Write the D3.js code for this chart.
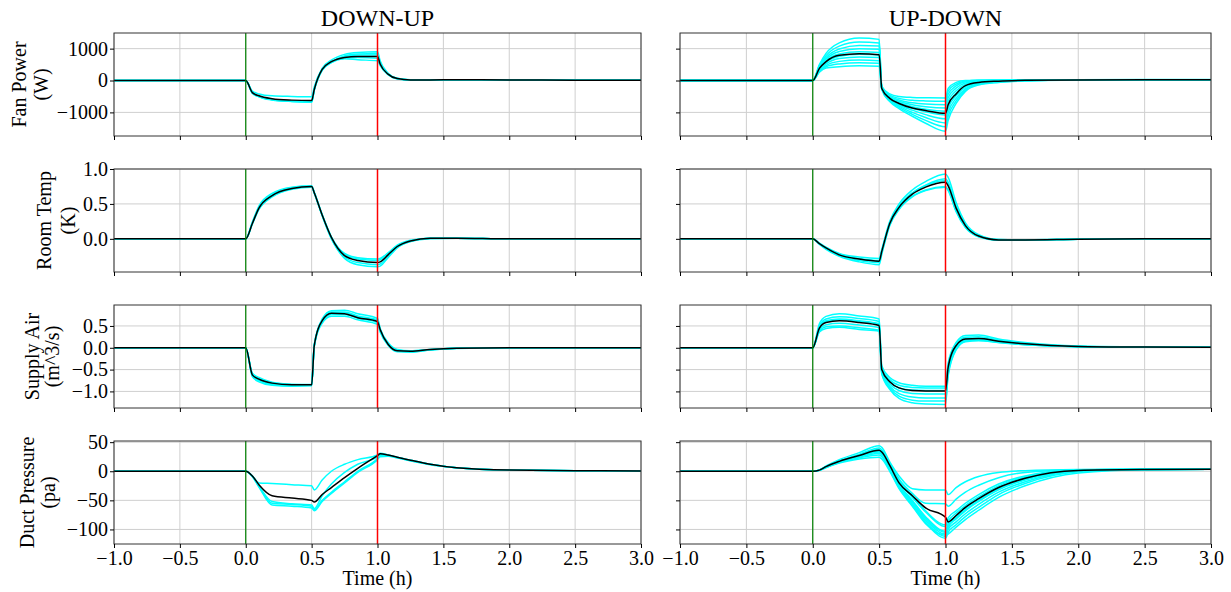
<!DOCTYPE html>
<html>
<head>
<meta charset="utf-8">
<script src="https://cdn.jsdelivr.net/npm/d3@7"></script>
<style>
  body { margin: 0; background: #fff; }
  svg text { font-family: "Liberation Serif", "Times New Roman", serif; fill: #000; }
</style>
</head>
<body>
<script>
// sample times (h)
var T = [-1, 0, 0.05, 0.1, 0.2, 0.35, 0.5, 0.52, 0.58, 0.65, 0.75, 0.85, 1.0, 1.02, 1.08, 1.15, 1.25, 1.4, 1.6, 2.0, 2.5, 3.0];

var titles = ['DOWN-UP', 'UP-DOWN'];
var rowLabels = [['Fan Power', '(W)'], ['Room Temp', '(K)'], ['Supply Air', '(m^3/s)'], ['Duct Pressure', '(pa)']];
var rowDomains = [[-1740, 1490], [-0.475, 1.0], [-1.38, 0.98], [-125, 52]];
var rowTicks = [[-1000, 0, 1000], [0, 0.5, 1.0], [-1.0, -0.5, 0, 0.5], [-100, -50, 0, 50]];
var rowFormats = ['d', '.1f', '.1f', 'd'];
var xTicks = [-1, -0.5, 0, 0.5, 1, 1.5, 2, 2.5, 3];

// ---- fan power ----
var fanDownMean = [0,0,-380,-480,-570,-615,-630,-280,350,590,725,755,750,520,200,60,20,20,22,18,12,8];
var fanDownRuns = [
  [0,0,-330,-420,-480,-500,-510,-200,380,640,820,880,900,620,230,70,25,22,22,18,12,8],
  [0,0,-390,-500,-600,-650,-665,-300,330,570,770,830,850,560,210,60,20,20,22,18,12,8],
  [0,0,-400,-510,-610,-660,-680,-310,320,560,700,720,700,500,190,55,20,20,22,18,12,8],
  [0,0,-370,-490,-590,-640,-660,-270,360,600,680,650,620,470,180,50,18,20,22,18,12,8],
  [0,0,-390,-500,-600,-655,-670,-290,340,580,750,800,800,540,200,60,20,20,22,18,12,8]
];
var fanUpMean = [0,0,380,590,790,840,810,-250,-560,-720,-860,-940,-1030,-760,-420,-160,-60,-20,5,20,25,25];
var fanUpRuns = [
  [0,0,500,850,1180,1330,1290,-180,-420,-500,-530,-540,-545,-250,-60,0,10,15,20,25,28,28],
  [0,0,470,780,1080,1210,1180,-200,-460,-560,-620,-640,-650,-330,-110,-20,5,10,18,24,27,27],
  [0,0,440,720,990,1100,1080,-210,-490,-610,-700,-740,-760,-430,-170,-40,0,8,16,23,26,26],
  [0,0,420,670,910,1000,980,-220,-520,-650,-760,-820,-860,-540,-240,-80,-20,0,14,22,25,25],
  [0,0,390,620,830,900,880,-230,-540,-690,-820,-900,-960,-650,-320,-120,-40,-10,10,21,25,25],
  [0,0,360,570,760,820,800,-240,-560,-720,-870,-980,-1080,-760,-400,-170,-60,-20,5,20,24,24],
  [0,0,330,520,690,740,720,-250,-590,-760,-930,-1070,-1200,-880,-480,-210,-80,-30,0,19,24,24],
  [0,0,300,470,600,640,620,-260,-610,-800,-1000,-1160,-1330,-1000,-560,-260,-100,-40,-5,18,23,23],
  [0,0,280,430,520,560,540,-270,-640,-840,-1060,-1250,-1450,-1120,-640,-300,-120,-50,-10,17,23,23],
  [0,0,260,390,430,460,450,-280,-660,-880,-1120,-1340,-1590,-1250,-720,-340,-140,-60,-15,16,22,22]
];

// ---- room temperature ----
var tempDownMean = [0,0,0.22,0.44,0.62,0.72,0.75,0.66,0.34,0.02,-0.24,-0.31,-0.34,-0.33,-0.23,-0.11,-0.03,0.01,0.01,0,0,0];
var tempDownRuns = [
  [0,0,0.24,0.47,0.65,0.74,0.76,0.67,0.35,0.03,-0.21,-0.27,-0.29,-0.28,-0.2,-0.09,-0.02,0.01,0.01,0,0,0],
  [0,0,0.21,0.42,0.6,0.71,0.74,0.65,0.33,0.0,-0.26,-0.34,-0.37,-0.36,-0.25,-0.12,-0.04,0.01,0.01,0,0,0],
  [0,0,0.23,0.45,0.63,0.73,0.75,0.66,0.34,0.01,-0.28,-0.37,-0.40,-0.39,-0.27,-0.13,-0.04,0.0,0.01,0,0,0],
  [0,0,0.22,0.43,0.61,0.72,0.75,0.66,0.34,0.02,-0.22,-0.29,-0.31,-0.30,-0.21,-0.10,-0.03,0.01,0.01,0,0,0]
];
var tempUpMean = [0,0,-0.07,-0.13,-0.23,-0.29,-0.32,-0.18,0.22,0.45,0.64,0.74,0.81,0.76,0.44,0.19,0.04,-0.015,-0.015,-0.005,0,0];
var tempUpRuns = [
  [0,0,-0.06,-0.12,-0.21,-0.26,-0.28,-0.15,0.25,0.5,0.7,0.82,0.93,0.88,0.52,0.23,0.06,-0.01,-0.015,-0.005,0,0],
  [0,0,-0.07,-0.14,-0.24,-0.31,-0.34,-0.2,0.2,0.43,0.61,0.7,0.75,0.7,0.4,0.17,0.03,-0.02,-0.015,-0.005,0,0],
  [0,0,-0.08,-0.15,-0.25,-0.33,-0.37,-0.22,0.19,0.42,0.6,0.69,0.74,0.69,0.39,0.16,0.03,-0.02,-0.02,-0.005,0,0],
  [0,0,-0.07,-0.13,-0.22,-0.28,-0.31,-0.17,0.23,0.47,0.66,0.77,0.86,0.81,0.47,0.21,0.05,-0.01,-0.015,-0.005,0,0],
  [0,0,-0.07,-0.13,-0.23,-0.29,-0.32,-0.18,0.22,0.46,0.65,0.76,0.83,0.78,0.45,0.2,0.04,-0.015,-0.015,-0.005,0,0]
];

// ---- supply air flow ----
var airDownMean = [0,0,-0.62,-0.72,-0.81,-0.85,-0.85,0.05,0.62,0.79,0.78,0.69,0.6,0.42,0.08,-0.07,-0.08,-0.04,-0.012,0,0,0];
var airDownRuns = [
  [0,0,-0.58,-0.68,-0.79,-0.84,-0.85,0.08,0.66,0.85,0.86,0.78,0.67,0.45,0.12,-0.04,-0.07,-0.04,-0.01,0,0,0],
  [0,0,-0.66,-0.78,-0.86,-0.88,-0.87,0.02,0.56,0.72,0.72,0.64,0.54,0.36,0.06,-0.09,-0.1,-0.05,-0.015,0,0,0],
  [0,0,-0.64,-0.75,-0.84,-0.87,-0.86,0.04,0.6,0.76,0.76,0.68,0.58,0.39,0.08,-0.07,-0.09,-0.05,-0.01,0,0,0],
  [0,0,-0.6,-0.7,-0.8,-0.84,-0.84,0.06,0.63,0.82,0.82,0.73,0.63,0.42,0.1,-0.05,-0.08,-0.04,-0.01,0,0,0],
  [0,0,-0.62,-0.73,-0.82,-0.85,-0.85,0.05,0.61,0.8,0.8,0.71,0.61,0.41,0.09,-0.06,-0.085,-0.045,-0.01,0,0,0]
];
var airUpMean = [0,0,0.45,0.58,0.62,0.58,0.51,-0.5,-0.78,-0.92,-0.98,-0.99,-0.99,-0.45,0.05,0.2,0.21,0.15,0.09,0.03,0.015,0.01];
var airUpRuns = [
  [0,0,0.55,0.72,0.78,0.73,0.66,-0.42,-0.68,-0.8,-0.86,-0.88,-0.88,-0.35,0.12,0.28,0.29,0.2,0.12,0.04,0.02,0.01],
  [0,0,0.5,0.66,0.71,0.67,0.6,-0.46,-0.73,-0.86,-0.91,-0.92,-0.92,-0.4,0.08,0.24,0.25,0.18,0.1,0.035,0.015,0.01],
  [0,0,0.46,0.6,0.64,0.6,0.53,-0.5,-0.78,-0.92,-0.97,-0.98,-0.98,-0.45,0.05,0.21,0.22,0.16,0.09,0.03,0.015,0.01],
  [0,0,0.42,0.53,0.56,0.52,0.46,-0.53,-0.83,-0.98,-1.05,-1.06,-1.06,-0.5,0.02,0.19,0.2,0.14,0.08,0.03,0.015,0.01],
  [0,0,0.38,0.48,0.5,0.46,0.4,-0.56,-0.88,-1.05,-1.13,-1.15,-1.15,-0.56,-0.01,0.17,0.18,0.13,0.08,0.025,0.01,0.01],
  [0,0,0.36,0.44,0.47,0.42,0.38,-0.58,-0.92,-1.11,-1.2,-1.22,-1.22,-0.6,-0.03,0.15,0.17,0.12,0.07,0.025,0.01,0.01],
  [0,0,0.47,0.62,0.66,0.62,0.55,-0.6,-0.95,-1.16,-1.26,-1.29,-1.3,-0.64,-0.05,0.14,0.16,0.12,0.07,0.025,0.01,0.01]
];

// ---- duct pressure ----
var presDownMean = [0,0,-8,-23,-42,-46,-50,-53,-40,-28,-11,5,27,30,28,24,19,12,6,2,1,0.5];
var presDownRuns = [
  [0,0,-8,-20,-21,-23,-25,-32,-15,0,12,20,28,31,28,24,19,12,6,2,1,0.5],
  [0,0,-9,-26,-55,-57,-60,-66,-50,-36,-18,0,22,27,27,23,18,12,6,2,1,0.5],
  [0,0,-9,-27,-58,-60,-63,-68,-52,-38,-20,-2,20,25,26,23,18,11,6,2,1,0.5],
  [0,0,-8,-25,-52,-56,-58,-64,-42,-22,-2,12,25,29,28,24,19,12,6,2,1,0.5]
];
var presUpMean = [0,0,2,8,17,27,36,33,10,-20,-42,-63,-79,-87,-76,-62,-47,-28,-12,1.5,3,3.4];
var presUpRuns = [
  [0,0,2,9,20,32,44,41,16,-8,-30,-32,-32,-40,-28,-18,-9,-2,1,3,3.5,3.5],
  [0,0,2,8,18,29,40,37,13,-13,-38,-55,-56,-60,-48,-36,-24,-11,-2,2.5,3.5,3.5],
  [0,0,2,8,17,27,37,34,10,-18,-45,-70,-95,-80,-68,-55,-40,-22,-8,2,3.3,3.4],
  [0,0,2,7,16,26,34,31,8,-22,-50,-78,-103,-90,-77,-63,-47,-28,-12,1.5,3.2,3.4],
  [0,0,2,8,17,27,36,33,7,-24,-53,-82,-108,-96,-82,-68,-52,-32,-15,1,3.1,3.4],
  [0,0,2,7,15,24,31,28,4,-26,-56,-85,-112,-100,-87,-73,-57,-36,-18,0,3,3.3],
  [0,0,1.5,7,15,23,28,25,2,-28,-58,-88,-115,-105,-92,-78,-62,-40,-21,-1,3,3.3],
  [0,0,1.5,6,14,21,24,21,0,-30,-60,-90,-110,-108,-96,-83,-67,-45,-25,-3,2.8,3.3],
  [0,0,2,8,17,28,38,35,12,-15,-42,-68,-92,-85,-72,-59,-44,-25,-10,2,3.3,3.4],
  [0,0,2,7,16,25,33,30,6,-24,-52,-80,-105,-93,-80,-66,-50,-30,-14,1,3.1,3.4]
];

var panels = [
  [{mean: fanDownMean, runs: fanDownRuns}, {mean: fanUpMean, runs: fanUpRuns}],
  [{mean: tempDownMean, runs: tempDownRuns}, {mean: tempUpMean, runs: tempUpRuns}],
  [{mean: airDownMean, runs: airDownRuns}, {mean: airUpMean, runs: airUpRuns}],
  [{mean: presDownMean, runs: presDownRuns}, {mean: presUpMean, runs: presUpRuns}]
];

var width = 1231, height = 592;
var colX = [[114, 641], [680, 1211]];
var rowTop = [33, 169, 305, 441], rowH = 103;
var labelX = [[19, 41], [44, 68], [32, 52], [27, 48]];

var svg = d3.select('body').append('svg')
  .attr('width', width).attr('height', height);

titles.forEach(function (t, c) {
  svg.append('text')
    .attr('x', (colX[c][0] + colX[c][1]) / 2)
    .attr('y', 26)
    .attr('text-anchor', 'middle')
    .attr('font-size', 24)
    .text(t);
});

panels.forEach(function (row, r) {
  row.forEach(function (p, c) {
    var x = d3.scaleLinear().domain([-1, 3]).range(colX[c]);
    var y = d3.scaleLinear().domain(rowDomains[r]).range([rowTop[r] + rowH, rowTop[r]]);
    var g = svg.append('g');

    // grid
    g.selectAll('.vgrid').data(xTicks).enter().append('line')
      .attr('x1', function (d) { return x(d); }).attr('x2', function (d) { return x(d); })
      .attr('y1', rowTop[r]).attr('y2', rowTop[r] + rowH)
      .attr('stroke', '#cfcfcf').attr('stroke-width', 1);
    g.selectAll('.hgrid').data(rowTicks[r]).enter().append('line')
      .attr('x1', colX[c][0]).attr('x2', colX[c][1])
      .attr('y1', function (d) { return y(d); }).attr('y2', function (d) { return y(d); })
      .attr('stroke', '#cfcfcf').attr('stroke-width', 1);

    var line = d3.line()
      .curve(d3.curveMonotoneX)
      .x(function (d, i) { return x(T[i]); })
      .y(function (d) { return y(d); });

    g.selectAll('.run').data(p.runs).enter().append('path')
      .attr('fill', 'none')
      .attr('stroke', '#00ffff')
      .attr('stroke-width', 1.5)
      .attr('d', line);

    g.append('path')
      .attr('fill', 'none')
      .attr('stroke', '#000')
      .attr('stroke-width', 1.5)
      .attr('d', line(p.mean));

    // event markers
    g.append('line')
      .attr('x1', x(0)).attr('x2', x(0))
      .attr('y1', rowTop[r]).attr('y2', rowTop[r] + rowH)
      .attr('stroke', 'green').attr('stroke-width', 1.2);
    g.append('line')
      .attr('x1', x(1)).attr('x2', x(1))
      .attr('y1', rowTop[r]).attr('y2', rowTop[r] + rowH)
      .attr('stroke', 'red').attr('stroke-width', 1.5);

    // frame
    g.append('rect')
      .attr('x', colX[c][0]).attr('y', rowTop[r])
      .attr('width', colX[c][1] - colX[c][0]).attr('height', rowH)
      .attr('fill', 'none').attr('stroke', '#333').attr('stroke-width', 1);

    var xAxis = d3.axisBottom(x).tickValues(xTicks).tickSize(4).tickPadding(3)
      .tickFormat(r === 3 ? d3.format('.1f') : function () { return ''; });
    var gx = g.append('g')
      .attr('transform', 'translate(0,' + (rowTop[r] + rowH) + ')')
      .call(xAxis);
    gx.select('.domain').remove();
    gx.selectAll('text').attr('font-size', 20);

    var yAxis = d3.axisLeft(y).tickValues(rowTicks[r]).tickSize(4).tickPadding(2)
      .tickFormat(c === 0 ? d3.format(rowFormats[r]) : function () { return ''; });
    var gy = g.append('g')
      .attr('transform', 'translate(' + colX[c][0] + ',0)')
      .call(yAxis);
    gy.select('.domain').remove();
    gy.selectAll('text').attr('font-size', 20);

    if (c === 0) {
      var cy = rowTop[r] + rowH / 2;
      rowLabels[r].forEach(function (s, k) {
        svg.append('text')
          .attr('transform', 'translate(' + labelX[r][k] + ',' + cy + ') rotate(-90)')
          .attr('text-anchor', 'middle')
          .attr('dy', '0.35em')
          .attr('font-size', 20)
          .text(s);
      });
    }
    if (r === 3) {
      svg.append('text')
        .attr('x', (colX[c][0] + colX[c][1]) / 2)
        .attr('y', 585)
        .attr('text-anchor', 'middle')
        .attr('font-size', 20)
        .text('Time (h)');
    }
  });
});
</script>
</body>
</html>
